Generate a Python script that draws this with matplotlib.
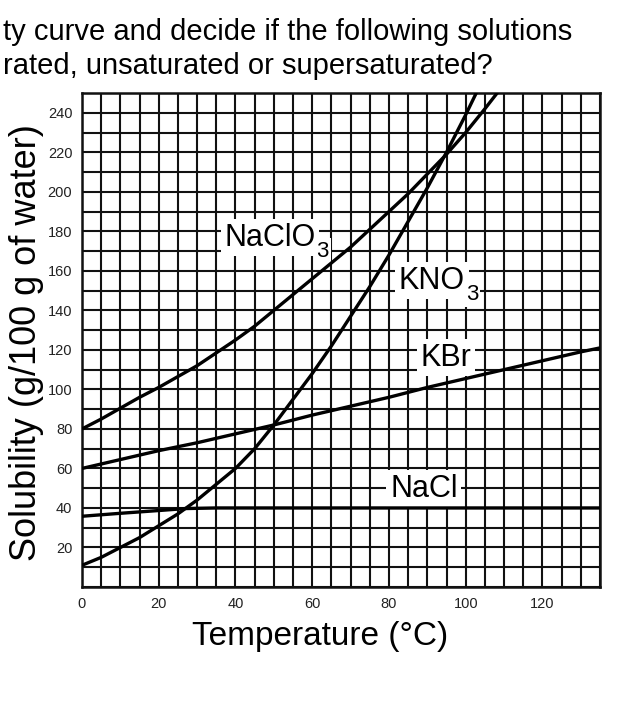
import matplotlib
matplotlib.use("Agg")
import matplotlib.pyplot as plt
import numpy as np

plt.rcParams['font.family'] = ['Liberation Sans', 'DejaVu Sans']

# ---- data ----
naclo3_t = [0, 5, 10, 15, 20, 25, 30, 35, 40, 45, 50, 55, 60, 65, 70, 75, 80,
            85, 90, 95, 100, 105, 109]
naclo3_s = [80, 85, 90.5, 96, 101, 106.5, 112, 118.5, 125, 132, 140, 148, 156,
            164, 172, 181, 190, 199, 209, 219, 230, 242, 252]

kno3_t = [0, 5, 10, 15, 20, 25, 30, 35, 40, 45, 50, 55, 60, 65, 70, 75, 80,
          85, 90, 95, 100, 103]
kno3_s = [11, 15, 20, 25, 31, 37, 44, 52, 60, 70, 82, 95, 108, 122, 137, 152,
          168, 185, 202, 220, 239, 251]

kbr_t = [0, 10, 20, 30, 40, 50, 60, 70, 80, 90, 100, 110, 120, 130, 135]
kbr_s = [60, 64.5, 69, 73, 77.5, 82, 87, 91.5, 96, 101, 105.5, 110, 114.5,
         119, 121]

nacl_t = [0, 10, 20, 27, 35, 60, 80, 100, 120, 135]
nacl_s = [35.8, 37.3, 38.7, 39.7, 40, 40, 40, 40, 40, 40]

xtick_vals = [0, 20, 40, 60, 80, 100, 120]
ytick_vals = [20, 40, 60, 80, 100, 120, 140, 160, 180, 200, 220, 240]

labels = ["NaClO", "KNO", "KBr", "NaCl"]
label_subs = ["3", "3", "", ""]
label_pos = [(37.1, 172.7), (82.6, 151.0), (88.3, 112.0), (80.3, 45.5)]

title_lines = ["ty curve and decide if the following solutions",
               "rated, unsaturated or supersaturated?"]

# ---- figure ----
fig = plt.figure(figsize=(6.19, 7.2), dpi=100)
ax = fig.add_axes([82/619, 1-587/720, (600-82)/619, (587-93)/720])

ax.set_xlim(0, 135)
ax.set_ylim(0, 250)
ax.set_xticks(xtick_vals)
ax.set_yticks(ytick_vals)
ax.set_xticks(np.arange(0, 136, 5), minor=True)
ax.set_yticks(np.arange(0, 251, 10), minor=True)
ax.tick_params(which='both', length=0)
ax.tick_params(axis='x', pad=7, labelsize=10.5, labelcolor='#222222')
ax.tick_params(axis='y', pad=7, labelsize=10.5, labelcolor='#222222')
ax.set_axisbelow(True)
ax.grid(which='both', color='#111111', lw=1.5)
for sp in ax.spines.values():
    sp.set_linewidth(1.8)
    sp.set_color('#111111')

for t, s in [(naclo3_t, naclo3_s), (kno3_t, kno3_s), (kbr_t, kbr_s), (nacl_t, nacl_s)]:
    ax.plot(t, s, color='black', lw=2.4, zorder=4, solid_joinstyle='round',
            solid_capstyle='butt')

box = dict(boxstyle='square,pad=0.12', fc='white', ec='none')
for lab, sub, (x, y) in zip(labels, label_subs, label_pos):
    txt = ax.text(x, y, lab, fontsize=22, ha='left', va='baseline', zorder=3,
                  bbox=box)
    if sub:
        ax.annotate(sub, xy=(1, 0), xycoords=txt, xytext=(0.5, -2.8),
                    textcoords='offset points', fontsize=16, ha='left',
                    va='baseline', zorder=3,
                    bbox=dict(boxstyle='square,pad=0.1', fc='white', ec='none'))

fig.text(320/619, 1-645/720, "Temperature (°C)", fontsize=24,
         ha='center', va='baseline')
fig.text(27/619, 1-343/720, "Solubility (g/100 g of water)", fontsize=26,
         ha='center', va='center', rotation=90)

fig.text(3/619, 1-40/720, title_lines[0], fontsize=21, ha='left', va='baseline')
fig.text(3/619, 1-74/720, title_lines[1], fontsize=21, ha='left', va='baseline')

fig.savefig("out.png", dpi=100)
